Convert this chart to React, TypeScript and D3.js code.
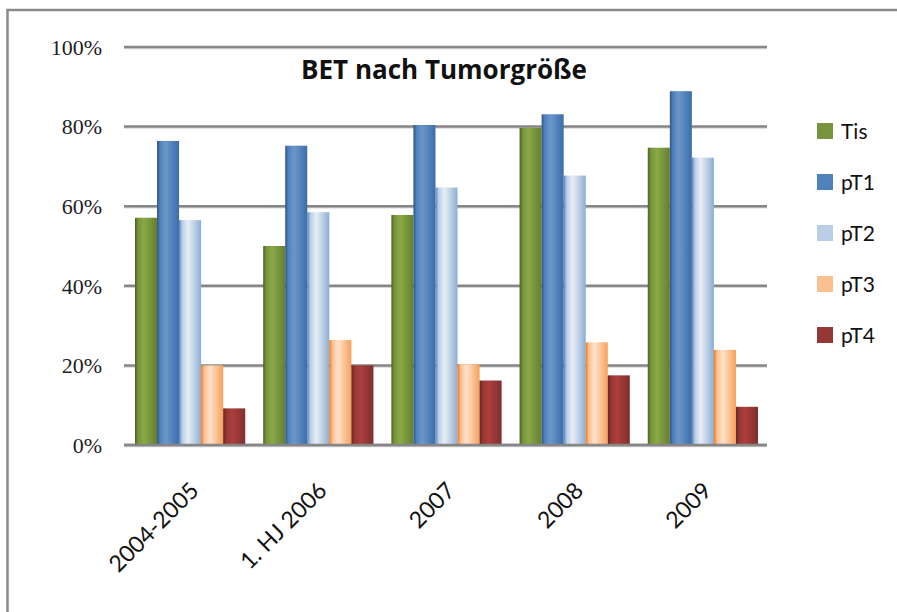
import React from "react";
import * as d3 from "d3";

const categories = ["2004-2005", "1. HJ 2006", "2007", "2008", "2009"];
const seriesNames = ["Tis", "pT1", "pT2", "pT3", "pT4"];
const tis = [57.1, 50.0, 57.8, 79.7, 74.7];
const pT1 = [76.4, 75.2, 80.4, 83.1, 88.9];
const pT2 = [56.5, 58.5, 64.7, 67.7, 72.2];
const pT3 = [20.0, 26.4, 20.3, 25.8, 23.9];
const pT4 = [9.2, 20.0, 16.2, 17.5, 9.6];
const yTicks = [0, 20, 40, 60, 80, 100];
const title = "BET nach Tumorgröße";

const seriesValues = [tis, pT1, pT2, pT3, pT4];
const baseColors = ["#77933c", "#4f81bd", "#b9cde5", "#fac090", "#953735"];

export default function App() {
  const W = 897, H = 612;
  const x0 = d3.scaleBand<string>().domain(categories).range([126, 767]).paddingInner(0.14).paddingOuter(0.07);
  const x1 = d3.scaleBand<string>().domain(seriesNames).range([0, x0.bandwidth()]).padding(0);
  const y = d3.scaleLinear().domain([0, 100]).range([445, 47]);
  const sans = "Lato, 'Open Sans', sans-serif";

  const grad = (c: string) => {
    const base = d3.hsl(c);
    return {
      dark: base.darker(1.2).formatHex(),
      light: base.brighter(0.4).formatHex(),
      mid: base.formatHex(),
      right: base.darker(0.45).formatHex(),
    };
  };

  return (
    <svg width={W} height={H} style={{ position: "fixed", left: 0, top: 0, background: "#fff" }}>
      <defs>
        {baseColors.map((c, i) => {
          const g = grad(c);
          return (
            <linearGradient key={i} id={`g${i}`} x1="0" x2="1" y1="0" y2="0">
              <stop offset="0%" stopColor={g.dark} />
              <stop offset="14%" stopColor={g.mid} />
              <stop offset="40%" stopColor={g.light} />
              <stop offset="72%" stopColor={g.mid} />
              <stop offset="100%" stopColor={g.right} />
            </linearGradient>
          );
        })}
      </defs>
      <rect x={0} y={0} width={W} height={H} fill="#fff" />
      <path d={`M7.5,${H} L7.5,10 L${W},10`} fill="none" stroke="#8a8a8a" strokeWidth={2.5} />
      {yTicks.map((t) => (
        <g key={t}>
          <line x1={124} x2={767} y1={y(t) + 1.5} y2={y(t) + 1.5} stroke="#d8d8d8" strokeWidth={1.5} />
          <line x1={124} x2={767} y1={y(t)} y2={y(t)} stroke="#868686" strokeWidth={2.5} />
          <text x={102} y={y(t)} dy="0.35em" textAnchor="end" fontFamily="'Liberation Serif', serif" fontSize={22} fill="#222">
            {`${t}%`}
          </text>
        </g>
      ))}
      {categories.map((cat, ci) => (
        <g key={cat} transform={`translate(${x0(cat)},0)`}>
          {seriesNames.map((s, si) => {
            const v = seriesValues[si][ci];
            return (
              <rect key={s} x={x1(s)} y={y(v)} width={x1.bandwidth()} height={y(0) - y(v)} fill={`url(#g${si})`} />
            );
          })}
        </g>
      ))}
      <line x1={124} x2={767} y1={y(0)} y2={y(0)} stroke="#868686" strokeWidth={2.5} />
      {categories.map((cat) => {
        const cx = (x0(cat) as number) + x0.bandwidth() / 2 + 10;
        const cy = 492;
        return (
          <text key={cat} x={cx} y={cy} textAnchor="end" transform={`rotate(-45,${cx},${cy})`} fontFamily={sans} fontSize={23} fill="#111">
            {cat}
          </text>
        );
      })}
      <text x={444} y={79} textAnchor="middle" fontFamily="'Open Sans', sans-serif" fontWeight="bold" fontSize={26} fill="#111">
        {title}
      </text>
      {seriesNames.map((s, i) => {
        const top = 123 + i * 51;
        return (
          <g key={s}>
            <rect x={817} y={top} width={16} height={16} fill={baseColors[i]} />
            <text x={841} y={top + 16} fontFamily={sans} fontSize={21} fill="#111">
              {s}
            </text>
          </g>
        );
      })}
    </svg>
  );
}
